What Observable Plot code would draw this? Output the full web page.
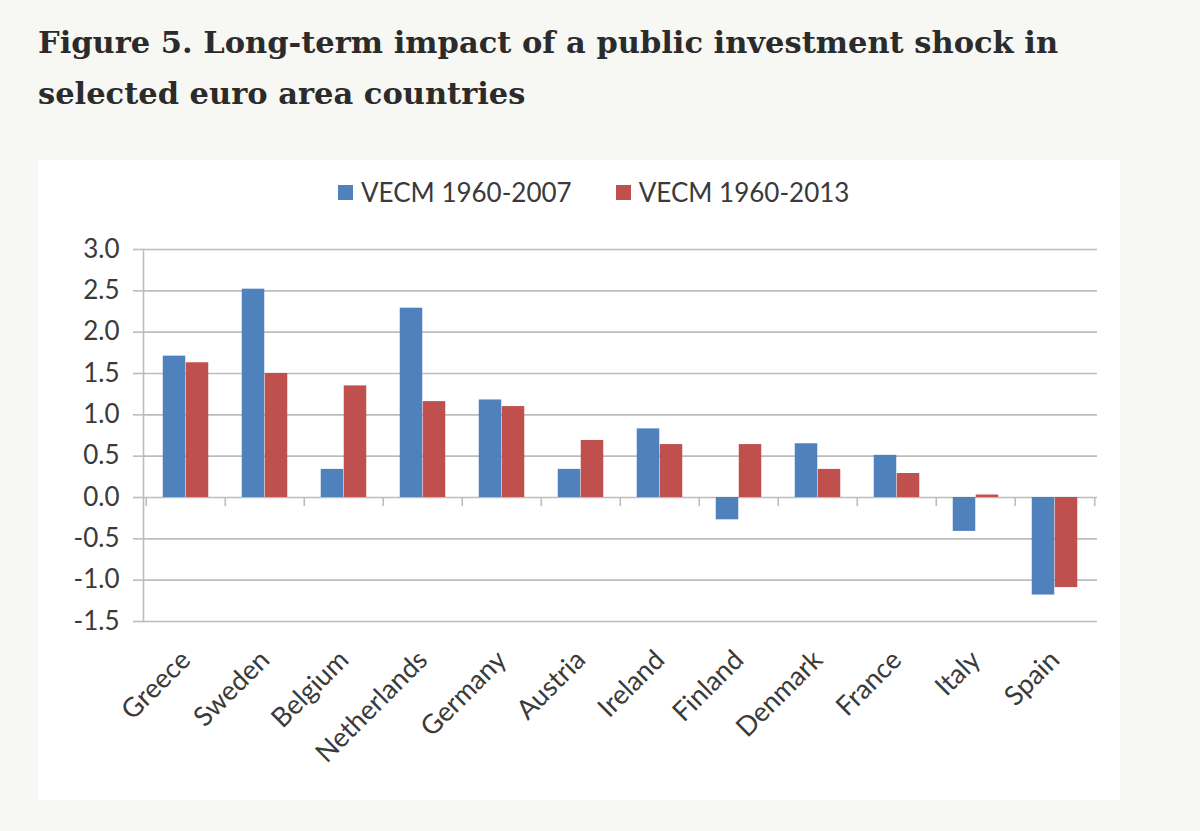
<!DOCTYPE html>
<html><head><meta charset="utf-8">
<script src="https://cdn.jsdelivr.net/npm/d3@7"></script>
<script src="https://cdn.jsdelivr.net/npm/@observablehq/plot@0.6"></script>
<style>
html,body{margin:0;padding:0;background:#f7f7f3;width:1200px;height:831px;overflow:hidden;}
#title{position:absolute;left:38px;top:17px;width:1100px;font-family:"DejaVu Serif",serif;font-weight:bold;font-size:30.5px;line-height:51px;color:#2b2b2b;margin:0;}
#panel{position:absolute;left:38px;top:160px;width:1082px;height:640px;background:#fff;}
#legend{position:absolute;top:16px;left:300px;display:flex;align-items:center;font-family:Lato,sans-serif;font-size:26px;color:#3a3a3a;white-space:nowrap;}
#legend .sw{width:15px;height:15px;display:inline-block;margin-right:8px;}
#legend .item{display:flex;align-items:center;margin-right:44px;}
#chart{position:absolute;left:0;top:60px;}
</style>
</head><body>
<h1 id="title">Figure 5. Long-term impact of a public investment shock in<br>selected euro area countries</h1>
<div id="panel">
  <div id="legend"></div>
  <div id="chart"></div>
</div>
<script>
const countries = ["Greece","Sweden","Belgium","Netherlands","Germany","Austria","Ireland","Finland","Denmark","France","Italy","Spain"];
const seriesNames = ["VECM 1960-2007","VECM 1960-2013"];
const vecm2007 = [1.71, 2.52, 0.34, 2.29, 1.18, 0.34, 0.83, -0.27, 0.65, 0.51, -0.41, -1.18];
const vecm2013 = [1.63, 1.50, 1.35, 1.16, 1.10, 0.69, 0.64, 0.64, 0.34, 0.29, 0.03, -1.09];
const yTicks = [-1.5, -1.0, -0.5, 0.0, 0.5, 1.0, 1.5, 2.0, 2.5, 3.0];
const colors = ["#4F81BD", "#C0504D"];

const W = 1082, H = 580, mL = 105, mR = 23, mT = 29, mB = 179;
const bw = (W - mL - mR) / countries.length;
const barW = 23;
const grid = "#bdbdbd";
const textColor = "#3a3a3a";

const d1 = countries.map((c, i) => ({country: c, value: vecm2007[i]}));
const d2 = countries.map((c, i) => ({country: c, value: vecm2013[i]}));

// legend
const legend = document.getElementById("legend");
seriesNames.forEach((s, i) => {
  const it = document.createElement("span");
  it.className = "item";
  it.innerHTML = `<span class="sw" style="background:${colors[i]}"></span><span>${s}</span>`;
  legend.appendChild(it);
});

const chart = Plot.plot({
  width: W, height: H,
  marginLeft: mL, marginRight: mR, marginTop: mT, marginBottom: mB,
  style: {fontFamily: "Lato, sans-serif", color: textColor, background: "transparent", overflow: "visible"},
  x: {domain: countries, padding: 0, label: null},
  y: {domain: [-1.5, 3], label: null},
  marks: [
    Plot.ruleY(yTicks, {stroke: grid, strokeWidth: 1.6}),
    Plot.frame({anchor: "left", stroke: grid, strokeWidth: 1.6}),
    Plot.ruleX(countries, {x: d => d, y1: 0, y2: -0.11, dx: -bw / 2, stroke: grid, strokeWidth: 1.6}),
    Plot.ruleX(countries.slice(-1), {x: d => d, y1: 0, y2: -0.11, dx: bw / 2, stroke: grid, strokeWidth: 1.6}),
    Plot.barY(d1, {x: "country", y: "value", fill: colors[0], insetLeft: bw / 2 - barW, insetRight: bw / 2}),
    Plot.barY(d2, {x: "country", y: "value", fill: colors[1], insetLeft: bw / 2, insetRight: bw / 2 - barW}),
    Plot.axisY({ticks: yTicks, tickSize: 10, tickPadding: 14, tickFormat: d => d.toFixed(1), stroke: grid, strokeWidth: 1.6, fill: textColor, fontSize: 26, label: null}),
    Plot.axisX({tickSize: 0, tickPadding: 34, tickRotate: -45, fontSize: 27, fill: textColor, label: null})
  ]
});
document.getElementById("chart").appendChild(chart);
</script>
</body></html>
